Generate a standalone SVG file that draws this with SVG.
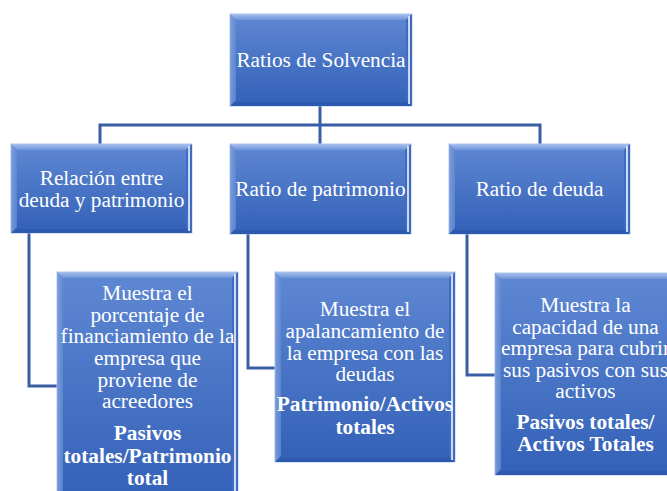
<svg xmlns="http://www.w3.org/2000/svg" width="667" height="491" viewBox="0 0 667 491">
<defs>
<linearGradient id="fill" x1="0" y1="0" x2="0" y2="1">
<stop offset="0" stop-color="#5F88D3"/>
<stop offset="1" stop-color="#3361B8"/>
</linearGradient>
<linearGradient id="topbev" x1="0" y1="0" x2="0" y2="1">
<stop offset="0" stop-color="#A7C0EE"/>
<stop offset="1" stop-color="#6F93D8"/>
</linearGradient>
<linearGradient id="leftbev" x1="0" y1="0" x2="1" y2="0">
<stop offset="0" stop-color="#86A5E0"/>
<stop offset="1" stop-color="#6189D2"/>
</linearGradient>
</defs>
<style>
.box{fill:url(#fill);stroke:#B3C8EE;stroke-width:1}
.tb{fill:url(#topbev)}
.lb{fill:url(#leftbev);opacity:0.8}
.rb{fill:#3F6CC0}
.bb{fill:#2D5AAE}
.hl{stroke:#F2F6FF;stroke-width:1.6;fill:none}
.t{font-family:"Liberation Serif","Times New Roman",serif;font-size:21.3px;fill:#FFFFFF;text-anchor:middle}
.b{font-weight:bold}
.c{fill:none;stroke:#3A5EA6;stroke-width:3}
</style>
<g id="connectors">
<path class="c" d="M320,106 V125 M100,144 V125 H540 V144 M320,125 V144"/>
<path class="c" d="M29,233 V386 H57"/>
<path class="c" d="M248,234 V368 H275"/>
<path class="c" d="M467,234 V375 H495"/>
</g>
<g id="ratios-solvencia">
<rect class="box" x="230" y="14" width="182" height="92"/>
<polygon class="tb" points="230,14 412,14 406,20 236,20"/>
<polygon class="lb" points="230,14 236,20 236,100 230,106"/>
<polygon class="rb" points="412,14 412,106 406,100 406,20"/>
<polygon class="bb" points="230,106 412,106 406,102 236,102"/>
<line class="hl" x1="409" y1="16" x2="409" y2="104"/>
<text class="t" x="321" y="67">Ratios de Solvencia</text>
</g>
<g id="relacion-deuda-patrimonio">
<rect class="box" x="11" y="144" width="181" height="89"/>
<polygon class="tb" points="11,144 192,144 186,150 17,150"/>
<polygon class="lb" points="11,144 17,150 17,227 11,233"/>
<polygon class="rb" points="192,144 192,233 186,227 186,150"/>
<polygon class="bb" points="11,233 192,233 186,229 17,229"/>
<line class="hl" x1="189" y1="146" x2="189" y2="231"/>
<text class="t" x="101.5" y="185">Relación entre</text>
<text class="t" x="101.5" y="207">deuda y patrimonio</text>
</g>
<g id="ratio-patrimonio">
<rect class="box" x="230" y="144" width="181" height="90"/>
<polygon class="tb" points="230,144 411,144 405,150 236,150"/>
<polygon class="lb" points="230,144 236,150 236,228 230,234"/>
<polygon class="rb" points="411,144 411,234 405,228 405,150"/>
<polygon class="bb" points="230,234 411,234 405,230 236,230"/>
<line class="hl" x1="408" y1="146" x2="408" y2="232"/>
<text class="t" x="320.5" y="196">Ratio de patrimonio</text>
</g>
<g id="ratio-deuda">
<rect class="box" x="449" y="144" width="181" height="90"/>
<polygon class="tb" points="449,144 630,144 624,150 455,150"/>
<polygon class="lb" points="449,144 455,150 455,228 449,234"/>
<polygon class="rb" points="630,144 630,234 624,228 624,150"/>
<polygon class="bb" points="449,234 630,234 624,230 455,230"/>
<line class="hl" x1="627" y1="146" x2="627" y2="232"/>
<text class="t" x="539.5" y="196">Ratio de deuda</text>
</g>
<g id="detalle-relacion">
<rect class="box" x="57" y="272" width="181" height="228"/>
<polygon class="tb" points="57,272 238,272 232,278 63,278"/>
<polygon class="lb" points="57,272 63,278 63,494 57,500"/>
<polygon class="rb" points="238,272 238,500 232,494 232,278"/>
<line class="hl" x1="235" y1="274" x2="235" y2="498"/>
<text class="t" x="147.5" y="300">Muestra el</text>
<text class="t" x="147.5" y="322">porcentaje de</text>
<text class="t" x="147.5" y="343">financiamiento de la</text>
<text class="t" x="147.5" y="365">empresa que</text>
<text class="t" x="147.5" y="387">proviene de</text>
<text class="t" x="147.5" y="408">acreedores</text>
<text class="t b" x="147.5" y="440">Pasivos</text>
<text class="t b" x="147.5" y="463">totales/Patrimonio</text>
<text class="t b" x="147.5" y="485">total</text>
</g>
<g id="detalle-patrimonio">
<rect class="box" x="275" y="272" width="180" height="190"/>
<polygon class="tb" points="275,272 455,272 449,278 281,278"/>
<polygon class="lb" points="275,272 281,278 281,456 275,462"/>
<polygon class="rb" points="455,272 455,462 449,456 449,278"/>
<polygon class="bb" points="275,462 455,462 449,458 281,458"/>
<line class="hl" x1="452" y1="274" x2="452" y2="460"/>
<text class="t" x="365" y="316">Muestra el</text>
<text class="t" x="365" y="338">apalancamiento de</text>
<text class="t" x="365" y="360">la empresa con las</text>
<text class="t" x="365" y="381">deudas</text>
<text class="t b" x="365" y="411">Patrimonio/Activos</text>
<text class="t b" x="365" y="434">totales</text>
</g>
<g id="detalle-deuda">
<rect class="box" x="495" y="273" width="181" height="202"/>
<polygon class="tb" points="495,273 676,273 670,279 501,279"/>
<polygon class="lb" points="495,273 501,279 501,469 495,475"/>
<polygon class="bb" points="495,475 676,475 670,471 501,471"/>
<text class="t" x="585.5" y="312">Muestra la</text>
<text class="t" x="585.5" y="334">capacidad de una</text>
<text class="t" x="585.5" y="355">empresa para cubrir</text>
<text class="t" x="585.5" y="377">sus pasivos con sus</text>
<text class="t" x="585.5" y="398">activos</text>
<text class="t b" x="585.5" y="429">Pasivos totales/</text>
<text class="t b" x="585.5" y="451">Activos Totales</text>
</g>
</svg>
